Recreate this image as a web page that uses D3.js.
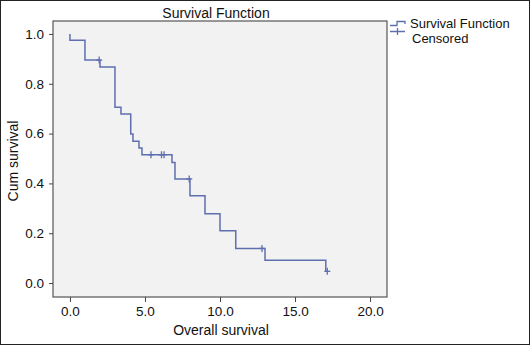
<!DOCTYPE html>
<html>
<head>
<meta charset="utf-8">
<script src="https://cdn.jsdelivr.net/npm/d3@7"></script>
<style>
  body { margin: 0; background: #fff; }
  text { font-family: "Liberation Sans", Arial, sans-serif; fill: #111; }
</style>
</head>
<body>
<div id="chart"></div>
<script>
// step points of the Kaplan-Meier curve (time, cum survival)
var survTimes = [0, 0, 1.0, 2.0, 3.0, 3.4, 4.05, 4.2, 4.6, 4.8, 6.8, 7.0, 8.0, 9.0, 10.0, 11.05, 13.0, 17.05];
var survValues = [1.0, 0.975, 0.895, 0.867, 0.706, 0.679, 0.598, 0.569, 0.542, 0.515, 0.484, 0.418, 0.35, 0.278, 0.21, 0.139, 0.092, 0.047];

// censored cases
var censTimes = [1.95, 5.4, 6.1, 6.27, 7.95, 12.8, 17.15];
var censValues = [0.895, 0.515, 0.515, 0.515, 0.418, 0.139, 0.047];

var xTicks = [0, 5, 10, 15, 20];
var yTicks = [0, 0.2, 0.4, 0.6, 0.8, 1.0];

var W = 530, H = 345;
var box = {left: 53, top: 21, right: 387, bottom: 297};
var lineColor = "#5f6fae";

var svg = d3.select("#chart").append("svg")
    .attr("width", W)
    .attr("height", H);

// outer frame
svg.append("rect")
    .attr("x", 0.5).attr("y", 0.5)
    .attr("width", W - 1).attr("height", H - 1)
    .attr("fill", "#fff")
    .attr("stroke", "#222");

var x = d3.scaleLinear()
    .domain([-1.13, 21.13])
    .range([box.left, box.right]);

var y = d3.scaleLinear()
    .domain([-0.056, 1.052])
    .range([box.bottom, box.top]);

// plot area
svg.append("rect")
    .attr("x", box.left).attr("y", box.top)
    .attr("width", box.right - box.left)
    .attr("height", box.bottom - box.top)
    .attr("fill", "#f2f2f2")
    .attr("stroke", "#555")
    .attr("stroke-width", 1.2);

var xAxis = d3.axisBottom(x)
    .tickValues(xTicks)
    .tickSize(5)
    .tickPadding(4)
    .tickFormat(d3.format(".1f"));

var yAxis = d3.axisLeft(y)
    .tickValues(yTicks)
    .tickSize(4)
    .tickPadding(5)
    .tickFormat(d3.format(".1f"));

var gx = svg.append("g")
    .attr("transform", "translate(0," + box.bottom + ")")
    .call(xAxis);
gx.select(".domain").remove();
gx.selectAll("line").attr("stroke", "#444");
gx.selectAll("text").style("font-size", "13.5px").attr("fill", "#111");

var gy = svg.append("g")
    .attr("transform", "translate(" + box.left + ",0)")
    .call(yAxis);
gy.select(".domain").remove();
gy.selectAll("line").attr("stroke", "#444");
gy.selectAll("text").style("font-size", "13.5px").attr("fill", "#111");

// curve
var steps = survTimes.map(function(t, i) { return {t: t, s: survValues[i]}; });
var line = d3.line()
    .x(function(d) { return x(d.t); })
    .y(function(d) { return y(d.s); })
    .curve(d3.curveStepAfter);

svg.append("path")
    .datum(steps)
    .attr("d", line)
    .attr("fill", "none")
    .attr("stroke", lineColor)
    .attr("stroke-width", 1.5);

// censored marks
var cens = censTimes.map(function(t, i) { return {t: t, s: censValues[i]}; });
var cg = svg.append("g");
cg.selectAll(".cv").data(cens).enter().append("line")
    .attr("x1", function(d) { return x(d.t); })
    .attr("x2", function(d) { return x(d.t); })
    .attr("y1", function(d) { return y(d.s) - 3.5; })
    .attr("y2", function(d) { return y(d.s) + 3.5; })
    .attr("stroke", lineColor)
    .attr("stroke-width", 1.3);
cg.selectAll(".ch").data(cens).enter().append("line")
    .attr("x1", function(d) { return x(d.t) - 3; })
    .attr("x2", function(d) { return x(d.t) + 3; })
    .attr("y1", function(d) { return y(d.s); })
    .attr("y2", function(d) { return y(d.s); })
    .attr("stroke", lineColor)
    .attr("stroke-width", 1.3);

// titles
svg.append("text")
    .attr("x", 216).attr("y", 17.5)
    .attr("text-anchor", "middle")
    .style("font-size", "14px")
    .text("Survival Function");

svg.append("text")
    .attr("x", 221).attr("y", 335)
    .attr("text-anchor", "middle")
    .style("font-size", "14px")
    .text("Overall survival");

svg.append("text")
    .attr("transform", "translate(17.5,161) rotate(-90)")
    .attr("text-anchor", "middle")
    .style("font-size", "14px")
    .text("Cum survival");

// legend
var lg = svg.append("g");
lg.append("path")
    .attr("d", "M390,25.5 H397 V21.5 H405 V24")
    .attr("fill", "none")
    .attr("stroke", lineColor)
    .attr("stroke-width", 1.3);
lg.append("path")
    .attr("d", "M390,31.5 H405 M397.5,28 V35")
    .attr("fill", "none")
    .attr("stroke", lineColor)
    .attr("stroke-width", 1.3);
lg.append("text")
    .attr("x", 410).attr("y", 27.5)
    .style("font-size", "13px")
    .text("Survival Function");
lg.append("text")
    .attr("x", 412).attr("y", 42.5)
    .style("font-size", "13px")
    .text("Censored");
</script>
</body>
</html>
